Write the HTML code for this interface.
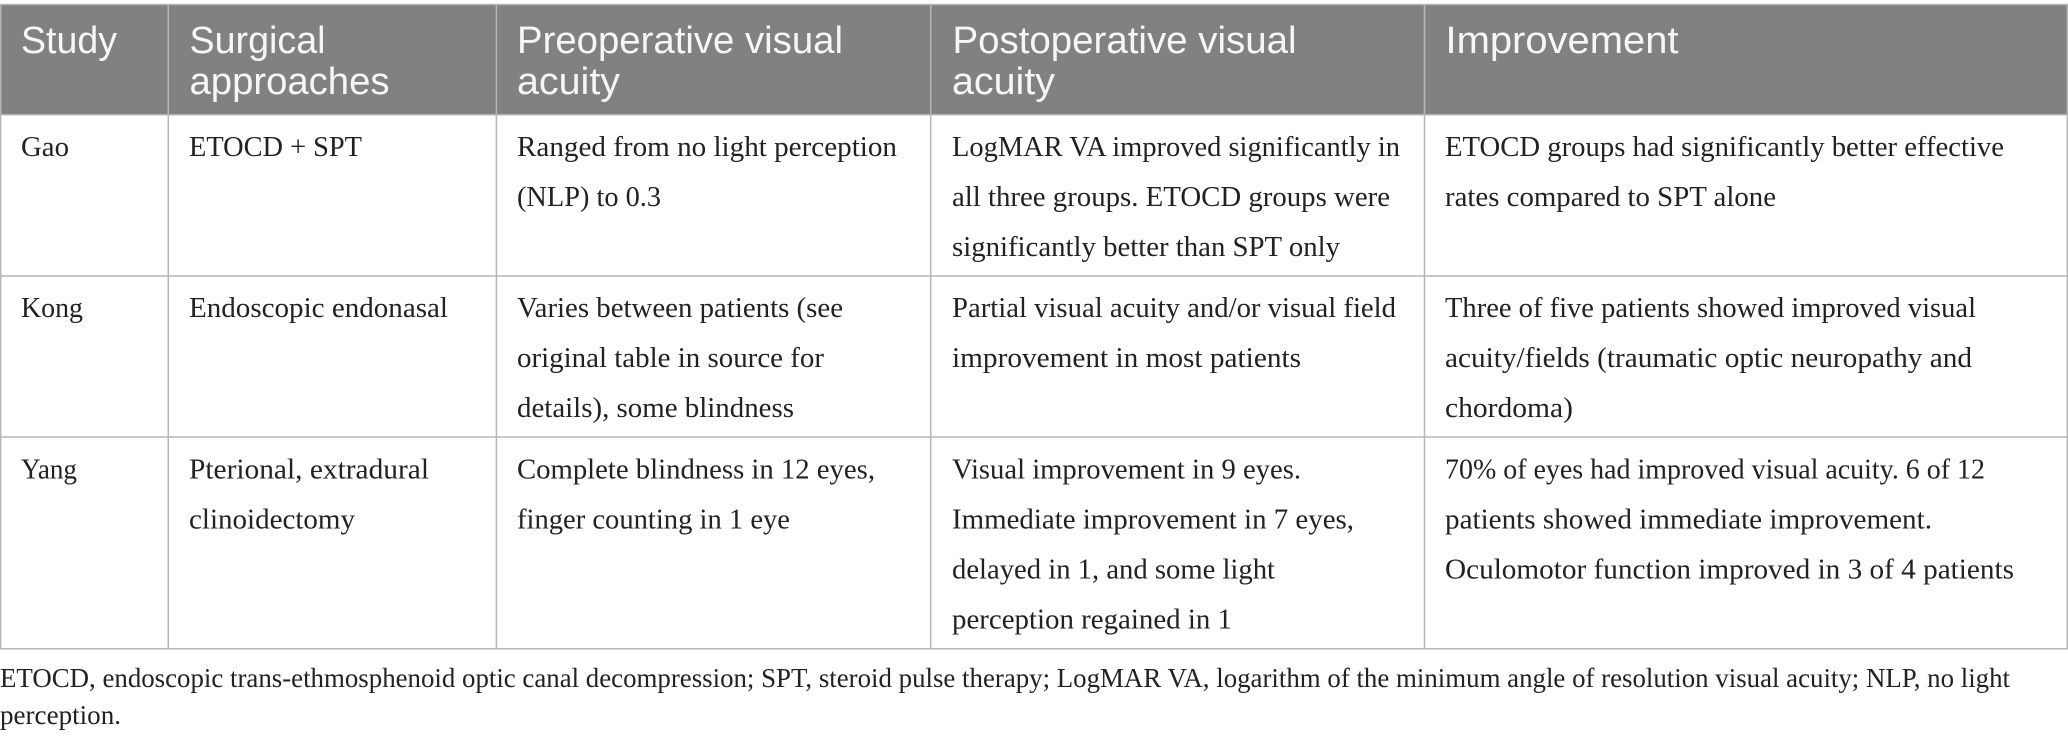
<!DOCTYPE html>
<html lang="en">
<head>
<meta charset="utf-8">
<title>Surgical approaches and visual acuity outcomes</title>
<style>
html,body{margin:0;padding:0;background:#fff;width:2068px;height:738px;overflow:hidden}
svg{display:block}
.h{font-family:"Liberation Sans",sans-serif;font-size:38px;fill:#f6f6f6}
.b{font-family:"Liberation Serif",serif;font-size:28px;fill:#222}
.f{font-family:"Liberation Serif",serif;font-size:27px;fill:#222}
</style>
</head>
<body>
<svg xmlns="http://www.w3.org/2000/svg" width="2068" height="738" viewBox="0 0 2068 738">
<rect x="0" y="0" width="2068" height="738" fill="#fff"/>
<rect x="0" y="4" width="2068" height="111" fill="#808281"/>

<g stroke="#b6b6b6" stroke-width="1.5">
<line x1="0" y1="4.5" x2="2068" y2="4.5"/>
<line x1="0" y1="114.7" x2="2068" y2="114.7"/>
<line x1="0" y1="276" x2="2068" y2="276"/>
<line x1="0" y1="437" x2="2068" y2="437"/>
<line x1="0" y1="648.7" x2="2068" y2="648.7"/>
<line x1="0.7" y1="4" x2="0.7" y2="649"/>
<line x1="168.3" y1="4" x2="168.3" y2="649"/>
<line x1="496.4" y1="4" x2="496.4" y2="649"/>
<line x1="930.7" y1="4" x2="930.7" y2="649"/>
<line x1="1424.5" y1="4" x2="1424.5" y2="649"/>
<line x1="2067.3" y1="4" x2="2067.3" y2="649"/>
</g>

<g class="h">
<text x="21" y="53" textLength="96" lengthAdjust="spacingAndGlyphs">Study</text>
<text x="189.5" y="53" textLength="136" lengthAdjust="spacingAndGlyphs">Surgical</text>
<text x="189.5" y="94" textLength="200" lengthAdjust="spacingAndGlyphs">approaches</text>
<text x="517" y="53" textLength="326" lengthAdjust="spacingAndGlyphs">Preoperative visual</text>
<text x="517" y="94" textLength="103" lengthAdjust="spacingAndGlyphs">acuity</text>
<text x="952.5" y="53" textLength="344" lengthAdjust="spacingAndGlyphs">Postoperative visual</text>
<text x="952" y="94" textLength="103" lengthAdjust="spacingAndGlyphs">acuity</text>
<text x="1445.5" y="53" textLength="233" lengthAdjust="spacingAndGlyphs">Improvement</text>
</g>

<g class="b">
<text x="21" y="156" textLength="48" lengthAdjust="spacingAndGlyphs">Gao</text>
<text x="189" y="156" textLength="173" lengthAdjust="spacingAndGlyphs">ETOCD + SPT</text>
<text x="517" y="156" textLength="380" lengthAdjust="spacingAndGlyphs">Ranged from no light perception</text>
<text x="517" y="206" textLength="144" lengthAdjust="spacingAndGlyphs">(NLP) to 0.3</text>
<text x="952" y="156" textLength="448" lengthAdjust="spacingAndGlyphs">LogMAR VA improved significantly in</text>
<text x="952" y="206" textLength="438" lengthAdjust="spacingAndGlyphs">all three groups. ETOCD groups were</text>
<text x="952" y="256" textLength="388" lengthAdjust="spacingAndGlyphs">significantly better than SPT only</text>
<text x="1445" y="156" textLength="559" lengthAdjust="spacingAndGlyphs">ETOCD groups had significantly better effective</text>
<text x="1445" y="206" textLength="331" lengthAdjust="spacingAndGlyphs">rates compared to SPT alone</text>
</g>

<g class="b">
<text x="21" y="317" textLength="62" lengthAdjust="spacingAndGlyphs">Kong</text>
<text x="189" y="317" textLength="259" lengthAdjust="spacingAndGlyphs">Endoscopic endonasal</text>
<text x="517" y="317" textLength="326" lengthAdjust="spacingAndGlyphs">Varies between patients (see</text>
<text x="517" y="367" textLength="307" lengthAdjust="spacingAndGlyphs">original table in source for</text>
<text x="517" y="417" textLength="277" lengthAdjust="spacingAndGlyphs">details), some blindness</text>
<text x="952" y="317" textLength="444" lengthAdjust="spacingAndGlyphs">Partial visual acuity and/or visual field</text>
<text x="952" y="367" textLength="349" lengthAdjust="spacingAndGlyphs">improvement in most patients</text>
<text x="1445" y="317" textLength="531" lengthAdjust="spacingAndGlyphs">Three of five patients showed improved visual</text>
<text x="1445" y="367" textLength="527" lengthAdjust="spacingAndGlyphs">acuity/fields (traumatic optic neuropathy and</text>
<text x="1445" y="417" textLength="128" lengthAdjust="spacingAndGlyphs">chordoma)</text>
</g>

<g class="b">
<text x="21" y="478.5" textLength="56" lengthAdjust="spacingAndGlyphs">Yang</text>
<text x="189" y="478.5" textLength="240" lengthAdjust="spacingAndGlyphs">Pterional, extradural</text>
<text x="189" y="528.5" textLength="166" lengthAdjust="spacingAndGlyphs">clinoidectomy</text>
<text x="517" y="478.5" textLength="358" lengthAdjust="spacingAndGlyphs">Complete blindness in 12 eyes,</text>
<text x="517" y="528.5" textLength="273" lengthAdjust="spacingAndGlyphs">finger counting in 1 eye</text>
<text x="952" y="478.5" textLength="349" lengthAdjust="spacingAndGlyphs">Visual improvement in 9 eyes.</text>
<text x="952" y="528.5" textLength="402" lengthAdjust="spacingAndGlyphs">Immediate improvement in 7 eyes,</text>
<text x="952" y="578.5" textLength="323" lengthAdjust="spacingAndGlyphs">delayed in 1, and some light</text>
<text x="952" y="628.5" textLength="280" lengthAdjust="spacingAndGlyphs">perception regained in 1</text>
<text x="1445" y="478.5" textLength="540" lengthAdjust="spacingAndGlyphs">70% of eyes had improved visual acuity. 6 of 12</text>
<text x="1445" y="528.5" textLength="487" lengthAdjust="spacingAndGlyphs">patients showed immediate improvement.</text>
<text x="1445" y="578.5" textLength="569" lengthAdjust="spacingAndGlyphs">Oculomotor function improved in 3 of 4 patients</text>
</g>

<g class="f">
<text x="0" y="687" textLength="2010" lengthAdjust="spacingAndGlyphs">ETOCD, endoscopic trans-ethmosphenoid optic canal decompression; SPT, steroid pulse therapy; LogMAR VA, logarithm of the minimum angle of resolution visual acuity; NLP, no light</text>
<text x="0" y="724" textLength="121" lengthAdjust="spacingAndGlyphs">perception.</text>
</g>
</svg>
</body>
</html>
